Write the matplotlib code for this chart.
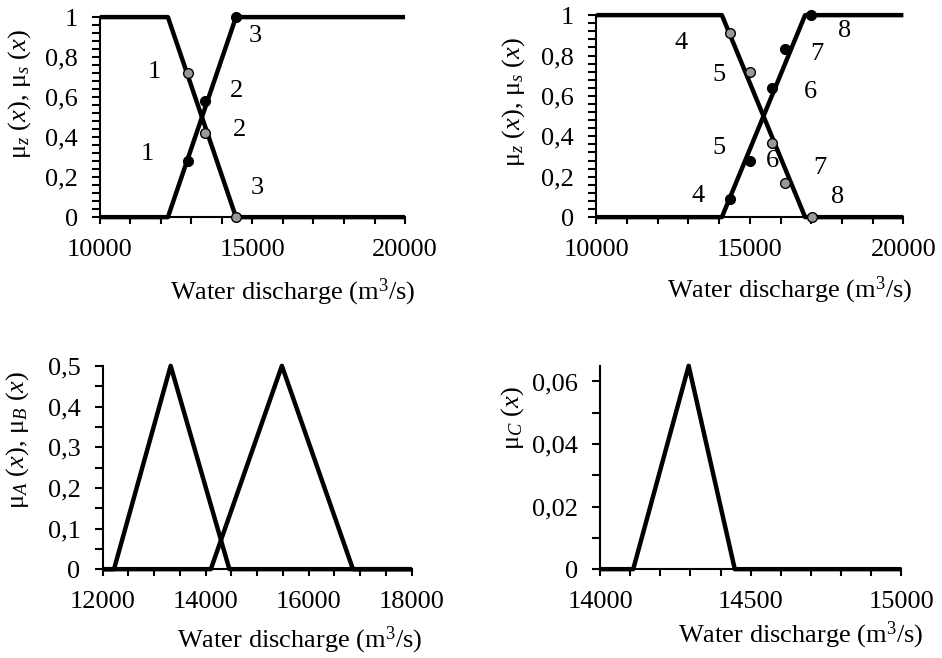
import matplotlib
matplotlib.use('Agg')
import matplotlib.pyplot as plt
from matplotlib.ticker import MultipleLocator, FuncFormatter

plt.rcParams['font.family'] = ['Liberation Serif', 'DejaVu Serif']
plt.rcParams['mathtext.fontset'] = 'custom'
plt.rcParams['mathtext.rm'] = 'Liberation Serif'
plt.rcParams['mathtext.it'] = 'Liberation Serif:italic'
plt.rcParams['font.size'] = 19

# top-left: flood set membership functions (case 1)
z1_x = [10000, 12230, 14460, 20000]
z1_y = [1, 1, 0, 0]
s1_x = [10000, 12230, 14460, 20000]
s1_y = [0, 0, 1, 1]
z1_pts_x = [12900, 13460, 14460]
z1_pts_y = [0.72, 0.42, 0.0]
s1_pts_x = [12880, 13460, 14460]
s1_pts_y = [0.28, 0.58, 1.0]
lab1_x = [11800, 11570, 14490, 14560, 15080, 15150]
lab1_y = [0.725, 0.315, 0.63, 0.435, 0.905, 0.145]
lab1_t = ['1', '1', '2', '2', '3', '3']

# top-right (case 2)
z2_x = [10000, 14090, 16800, 20000]
z2_y = [1, 1, 0, 0]
s2_x = [10000, 14090, 16800, 20000]
s2_y = [0, 0, 1, 1]
z2_pts_x = [14360, 15010, 15720, 16150, 17020]
z2_pts_y = [0.91, 0.72, 0.365, 0.17, 0.0]
s2_pts_x = [14360, 15010, 15720, 16150, 16990]
s2_pts_y = [0.09, 0.28, 0.64, 0.83, 1.0]
lab2_x = [12760, 14010, 16960, 17180, 18100, 13330, 14010, 15720, 17270, 17860]
lab2_y = [0.863, 0.703, 0.621, 0.807, 0.923, 0.105, 0.341, 0.28, 0.242, 0.102]
lab2_t = ['4', '5', '6', '7', '8', '4', '5', '6', '7', '8']

# bottom-left: A and B
a_x = [12000, 12220, 13320, 14460, 18000]
a_y = [0, 0, 0.5, 0, 0]
b_x = [12000, 14100, 15480, 16860, 18000]
b_y = [0, 0, 0.5, 0, 0]

# bottom-right: C
c_x = [14000, 14110, 14294, 14447, 15000]
c_y = [0, 0, 0.065, 0, 0]

comma = FuncFormatter(lambda v, p: ('%g' % round(v, 4)).replace('.', ','))


def style(ax):
    for s in ['top', 'right']:
        ax.spines[s].set_visible(False)
    for s in ['left', 'bottom']:
        ax.spines[s].set_linewidth(1.5)
    ax.tick_params(which='both', direction='out', length=5, width=1.5, pad=11)
    ax.tick_params(axis='y', which='both', length=6, pad=10)
    ax.yaxis.set_major_formatter(comma)


fig = plt.figure(figsize=(9.42, 6.58), dpi=100)
ax1 = fig.add_axes([0.106, 0.670, 0.324, 0.304])
ax2 = fig.add_axes([0.633, 0.670, 0.326, 0.307])
ax3 = fig.add_axes([0.109, 0.135, 0.328, 0.309])
ax4 = fig.add_axes([0.637, 0.135, 0.320, 0.309])

xlab = 'Water discharge (m$^3$/s)'

for ax, zx, zy, sx, sy, zpx, zpy, spx, spy, lx, ly, lt in [
        (ax1, z1_x, z1_y, s1_x, s1_y, z1_pts_x, z1_pts_y, s1_pts_x, s1_pts_y, lab1_x, lab1_y, lab1_t),
        (ax2, z2_x, z2_y, s2_x, s2_y, z2_pts_x, z2_pts_y, s2_pts_x, s2_pts_y, lab2_x, lab2_y, lab2_t)]:
    ax.plot(zx, zy, color='black', lw=3.2, clip_on=False, solid_capstyle='butt')
    ax.plot(sx, sy, color='black', lw=3.2, clip_on=False, solid_capstyle='butt')
    ax.plot(zpx, zpy, 'o', ms=7, mfc='#999999', mec='black', mew=1, clip_on=False, zorder=5)
    ax.plot(spx, spy, 'o', ms=7, mfc='black', mec='black', mew=1, clip_on=False, zorder=5)
    for x, y, t in zip(lx, ly, lt):
        ax.text(x, y, t, ha='center', va='center', fontsize=19)
    ax.set_xlim(10000, 20000)
    ax.set_ylim(0, 1)
    ax.xaxis.set_major_locator(MultipleLocator(5000))
    ax.xaxis.set_minor_locator(MultipleLocator(1000))
    ax.yaxis.set_major_locator(MultipleLocator(0.2))
    ax.yaxis.set_minor_locator(MultipleLocator(0.04))
    style(ax)
    ax.set_xlabel(xlab, va='center')

ax1.set_ylabel(r'μ$_z$ ($x$), μ$_s$ ($x$)', va='center')
ax2.set_ylabel(r'μ$_z$ ($x$), μ$_s$ ($x$)', va='center')
ax1.xaxis.set_label_coords(0.633, -0.375)
ax2.xaxis.set_label_coords(0.629, -0.36)
ax1.yaxis.set_label_coords(-0.262, 0.615)
ax2.yaxis.set_label_coords(-0.27, 0.57)

ax3.plot(a_x, a_y, color='black', lw=3.2, clip_on=False, solid_capstyle='butt')
ax3.plot(b_x, b_y, color='black', lw=3.2, clip_on=False, solid_capstyle='butt')
ax3.set_xlim(12000, 18000)
ax3.set_ylim(0, 0.5)
ax3.xaxis.set_major_locator(MultipleLocator(2000))
ax3.xaxis.set_minor_locator(MultipleLocator(500))
ax3.yaxis.set_major_locator(MultipleLocator(0.1))
ax3.yaxis.set_minor_locator(MultipleLocator(0.05))
style(ax3)
ax3.set_xlabel(xlab, va='center')
ax3.set_ylabel(r'μ$_A$ ($x$), μ$_B$ ($x$)', va='center')
ax3.xaxis.set_label_coords(0.638, -0.35)
ax3.yaxis.set_label_coords(-0.275, 0.635)

ax4.plot(c_x, c_y, color='black', lw=3.2, clip_on=False, solid_capstyle='butt')
ax4.set_xlim(14000, 15000)
ax4.set_ylim(0, 0.065)
ax4.xaxis.set_major_locator(MultipleLocator(500))
ax4.xaxis.set_minor_locator(MultipleLocator(100))
ax4.yaxis.set_major_locator(MultipleLocator(0.02))
ax4.yaxis.set_minor_locator(MultipleLocator(0.01))
style(ax4)
ax4.set_xlabel(xlab, va='center')
ax4.set_ylabel(r'μ$_C$ ($x$)', va='center')
ax4.xaxis.set_label_coords(0.664, -0.325)
ax4.yaxis.set_label_coords(-0.29, 0.744)

fig.savefig('out.png', dpi=100)
